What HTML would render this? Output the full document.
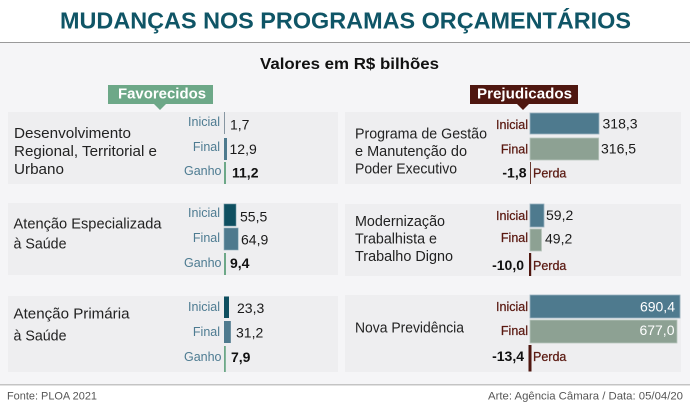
<!DOCTYPE html>
<html><head><meta charset="utf-8">
<style>
html,body{margin:0;padding:0;background:#fff;}
svg{display:block;}
text{font-family:"Liberation Sans",Arial,sans-serif;}
</style></head>
<body>
<svg width="690" height="409" viewBox="0 0 690 409" xmlns="http://www.w3.org/2000/svg">
<rect x="0" y="0" width="690" height="409" fill="#ffffff"/>
<!-- title -->
<text x="60" y="28.5" font-size="22.8" font-weight="bold" fill="#0f5566" textLength="571" lengthAdjust="spacingAndGlyphs">MUDANÇAS NOS PROGRAMAS ORÇAMENTÁRIOS</text>
<rect x="0" y="42" width="690" height="1" fill="#9a9a9a"/>
<rect x="0" y="43" width="690" height="341" fill="#f5f5f7"/>
<rect x="0" y="384" width="690" height="1.5" fill="#c4c4c4"/>
<!-- subtitle -->
<text x="260" y="69" font-size="16" font-weight="bold" fill="#111" textLength="179" lengthAdjust="spacingAndGlyphs">Valores em R$ bilhões</text>

<!-- badges -->
<rect x="108" y="85" width="105" height="19" fill="#6da888"/>
<polygon points="154,104 166,104 160,110" fill="#6da888"/>
<text x="118" y="98.5" font-size="14.5" font-weight="bold" fill="#fff" textLength="88" lengthAdjust="spacingAndGlyphs">Favorecidos</text>
<rect x="470" y="85" width="108" height="19" fill="#4f1710"/>
<polygon points="517,104 529,104 523,110" fill="#4f1710"/>
<text x="477" y="98.5" font-size="14.5" font-weight="bold" fill="#fff" textLength="95" lengthAdjust="spacingAndGlyphs">Prejudicados</text>

<!-- panels -->
<rect x="8" y="112" width="330" height="72" fill="#eeeef0"/>
<rect x="345" y="112" width="336" height="72" fill="#eeeef0"/>
<rect x="8" y="203" width="330" height="72" fill="#eeeef0"/>
<rect x="345" y="204" width="336" height="72" fill="#eeeef0"/>
<rect x="8" y="296" width="330" height="76" fill="#eeeef0"/>
<rect x="345" y="295" width="336" height="77" fill="#eeeef0"/>

<!-- LEFT ROW 1 -->
<g font-size="15" fill="#222">
<text x="14" y="138" textLength="117" lengthAdjust="spacingAndGlyphs">Desenvolvimento</text>
<text x="14" y="156" textLength="143" lengthAdjust="spacingAndGlyphs">Regional, Territorial e</text>
<text x="14" y="174" textLength="50" lengthAdjust="spacingAndGlyphs">Urbano</text>
<text x="13.5" y="228.3" textLength="148" lengthAdjust="spacingAndGlyphs">Atenção Especializada</text>
<text x="13.5" y="248.3" textLength="53" lengthAdjust="spacingAndGlyphs">à Saúde</text>
<text x="13.5" y="318.5" textLength="116" lengthAdjust="spacingAndGlyphs">Atenção Primária</text>
<text x="13.5" y="340.5" textLength="53" lengthAdjust="spacingAndGlyphs">à Saúde</text>
</g>
<g font-size="15" fill="#222">
<text x="355" y="138.3" textLength="132" lengthAdjust="spacingAndGlyphs">Programa de Gestão</text>
<text x="355" y="156" textLength="112" lengthAdjust="spacingAndGlyphs">e Manutenção do</text>
<text x="355" y="173.5" textLength="102" lengthAdjust="spacingAndGlyphs">Poder Executivo</text>
<text x="355" y="226" textLength="90" lengthAdjust="spacingAndGlyphs">Modernização</text>
<text x="355" y="243.5" textLength="82" lengthAdjust="spacingAndGlyphs">Trabalhista e</text>
<text x="355" y="261" textLength="98" lengthAdjust="spacingAndGlyphs">Trabalho Digno</text>
<text x="355" y="332.5" textLength="109" lengthAdjust="spacingAndGlyphs">Nova Previdência</text>
</g>

<!-- left labels -->
<g font-size="12.5" fill="#4d7b91" text-anchor="end">
<text x="220" y="126">Inicial</text>
<text x="220" y="151">Final</text>
<text x="221.5" y="175">Ganho</text>
<text x="220" y="217">Inicial</text>
<text x="220" y="242">Final</text>
<text x="221.5" y="267">Ganho</text>
<text x="220" y="311">Inicial</text>
<text x="220" y="336">Final</text>
<text x="221.5" y="361">Ganho</text>
</g>
<!-- right labels -->
<g font-size="12.5" fill="#5b1a12" text-anchor="end" stroke="#5b1a12" stroke-width="0.25">
<text x="528" y="129">Inicial</text>
<text x="528" y="153.3">Final</text>
<text x="528" y="220">Inicial</text>
<text x="528" y="242">Final</text>
<text x="528" y="311">Inicial</text>
<text x="528" y="335">Final</text>
</g>
<g font-size="12.5" fill="#5b1a12" stroke="#5b1a12" stroke-width="0.25">
<text x="533" y="177.3">Perda</text>
<text x="533" y="270">Perda</text>
<text x="533" y="361">Perda</text>
</g>

<!-- left bars -->
<rect x="224" y="112" width="1" height="22" fill="#8796a2"/>
<rect x="224" y="138" width="3" height="22" fill="#4e7a8e"/>
<rect x="224" y="162" width="2" height="22" fill="#6da888"/>

<rect x="224" y="204" width="12" height="22" fill="#0e4f60" stroke="#6f96a3" stroke-width="0.6"/>
<rect x="224" y="228" width="14.2" height="22" fill="#4e7a8e" stroke="#8fb0bd" stroke-width="0.6"/>
<rect x="224" y="253" width="2" height="22" fill="#6da888"/>

<rect x="224" y="296.5" width="5" height="21.5" fill="#0e4f60"/>
<rect x="224" y="321" width="6.8" height="22" fill="#4e7a8e"/>
<rect x="224" y="346" width="1.8" height="26" fill="#6da888"/>

<!-- right bars -->
<rect x="530" y="113" width="69" height="21" fill="#4e7a8e" stroke="#9ab3c0" stroke-width="0.8"/>
<rect x="530" y="138" width="68.7" height="22" fill="#8da193" stroke="#b9c6bd" stroke-width="0.8"/>
<rect x="530" y="162" width="1" height="22" fill="#6a3a30"/>

<rect x="530" y="204" width="14" height="23" fill="#4e7a8e" stroke="#9ab3c0" stroke-width="0.8"/>
<rect x="530" y="229" width="11.5" height="22" fill="#8da193" stroke="#b9c6bd" stroke-width="0.8"/>
<rect x="529" y="253" width="2.2" height="23" fill="#4f1710"/>

<rect x="530" y="295" width="150" height="23" fill="#4e7a8e" stroke="#9ab3c0" stroke-width="0.8"/>
<rect x="530" y="320" width="147" height="23" fill="#8da193" stroke="#b9c6bd" stroke-width="0.8"/>
<rect x="528.5" y="345" width="3" height="26.5" fill="#4f1710"/>

<!-- left values -->
<g font-size="14" fill="#1a1a1a">
<text x="230" y="129.3">1,7</text>
<text x="229.5" y="154">12,9</text>
<text x="240" y="221.7">55,5</text>
<text x="241" y="244.3">64,9</text>
<text x="237" y="313">23,3</text>
<text x="236" y="337.7">31,2</text>
<text x="602.5" y="128.5">318,3</text>
<text x="601" y="153.5">316,5</text>
<text x="546" y="220">59,2</text>
<text x="545" y="243.5">49,2</text>
</g>
<g font-size="14" fill="#111" font-weight="bold">
<text x="232" y="177.5">11,2</text>
<text x="230" y="268">9,4</text>
<text x="231" y="362">7,9</text>
</g>
<g font-size="14" fill="#111" font-weight="bold" text-anchor="end">
<text x="526.5" y="177.5">-1,8</text>
<text x="524" y="270">-10,0</text>
<text x="524" y="361">-13,4</text>
</g>
<g font-size="14" fill="#ffffff" text-anchor="end">
<text x="675" y="311.7">690,4</text>
<text x="674.5" y="335">677,0</text>
</g>

<!-- footer -->
<text x="7" y="399.3" font-size="11" fill="#555" textLength="90" lengthAdjust="spacingAndGlyphs">Fonte: PLOA 2021</text>
<text x="488" y="399.3" font-size="11" fill="#555" textLength="195" lengthAdjust="spacingAndGlyphs">Arte: Agência Câmara / Data: 05/04/20</text>
</svg>
</body></html>
